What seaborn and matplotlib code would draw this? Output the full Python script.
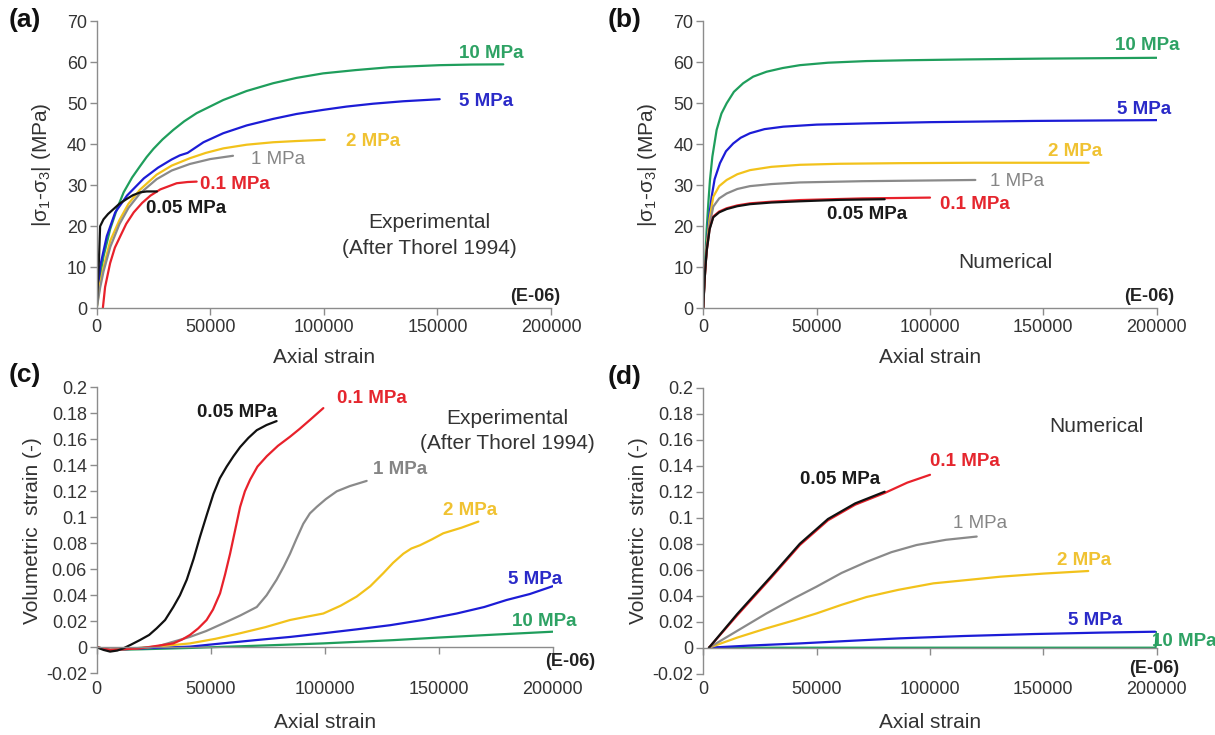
import numpy as np
import pandas as pd
import matplotlib
matplotlib.use("Agg")
import matplotlib.pyplot as plt
import seaborn as sns
from matplotlib.ticker import FuncFormatter

sns.set_theme(style="white")
plt.rcParams['font.family'] = ['Liberation Sans', 'DejaVu Sans']
plt.rcParams['mathtext.fontset'] = 'custom'
plt.rcParams['mathtext.rm'] = 'Liberation Sans'
plt.rcParams['mathtext.it'] = 'Liberation Sans:italic'
plt.rcParams['axes.unicode_minus'] = False

# ---------------- data ----------------
series = ['10 MPa', '5 MPa', '2 MPa', '1 MPa', '0.1 MPa', '0.05 MPa']

# (a) experimental deviatoric stress
a_x = {
    '10 MPa': [0, 1000, 2970, 5930, 8900, 11870, 15580, 19000, 22000, 25000, 29000, 33700, 38500, 44000, 55700, 66000, 77700, 88000, 99700, 114000, 129000, 151000, 165000, 179000],
    '5 MPa': [0, 1500, 4450, 8160, 13350, 20770, 27000, 33000, 36600, 40000, 47000, 55700, 66000, 77700, 88000, 99700, 110000, 121700, 135000, 151000],
    '2 MPa': [0, 1500, 3000, 6000, 10000, 14000, 19000, 26400, 33000, 41000, 48000, 55700, 66000, 77700, 88000, 100400],
    '1 MPa': [0, 1500, 3000, 6000, 10000, 14000, 19000, 26400, 33000, 41000, 50000, 60000],
    '0.1 MPa': [2700, 3700, 5900, 8000, 10400, 13000, 16300, 20000, 23700, 28000, 35200, 40000, 44000],
    '0.05 MPa': [0, 1000, 1500, 3000, 5000, 7400, 10000, 13300, 16000, 19300, 22000, 26500],
}
a_y = {
    '10 MPa': [0, 6, 12.6, 19.3, 24.2, 28.3, 31.9, 34.6, 36.9, 38.9, 41.2, 43.5, 45.6, 47.6, 50.8, 53.0, 54.9, 56.2, 57.3, 58.1, 58.8, 59.3, 59.45, 59.5],
    '5 MPa': [0, 10.2, 17.6, 23.4, 27.5, 31.7, 34.3, 36.3, 37.3, 37.9, 40.5, 42.7, 44.6, 46.2, 47.4, 48.4, 49.2, 49.9, 50.5, 51.0],
    '2 MPa': [0, 6, 10, 16.5, 21.5, 25.5, 28.9, 32.6, 34.8, 36.6, 37.9, 39.0, 39.9, 40.5, 40.8, 41.1],
    '1 MPa': [0, 5, 9, 15, 20.5, 24.5, 28.0, 31.5, 33.6, 35.2, 36.4, 37.2],
    '0.1 MPa': [0, 5.2, 11, 14.8, 17.6, 20.6, 23.4, 25.7, 27.5, 29.0, 30.5, 30.8, 30.9],
    '0.05 MPa': [0, 12, 20, 21.7, 23.0, 24.2, 25.5, 26.7, 27.6, 28.3, 28.5, 28.5],
}

# (b) numerical deviatoric stress
b_x = {
    '10 MPa': [0, 300, 800, 1470, 2200, 2940, 4000, 5880, 8000, 10300, 13500, 17600, 22000, 27900, 35000, 42600, 55000, 72000, 90000, 116000, 150000, 200000],
    '5 MPa': [0, 300, 800, 1470, 2500, 3680, 5000, 7350, 10000, 13200, 16500, 20600, 27000, 35300, 50000, 72000, 100000, 145600, 200000],
    '2 MPa': [0, 300, 800, 1500, 2800, 4400, 7000, 10300, 15000, 20600, 30000, 42600, 60000, 86800, 120000, 170000],
    '1 MPa': [0, 300, 800, 1500, 2800, 4400, 7000, 10300, 15000, 20600, 30000, 42600, 70000, 120000],
    '0.1 MPa': [0, 300, 800, 1500, 2800, 4400, 7000, 10300, 15000, 20600, 30000, 42600, 70000, 100000],
    '0.05 MPa': [0, 300, 800, 1500, 2800, 4400, 7000, 10300, 15000, 20600, 30000, 42600, 60000, 80000],
}
b_y = {
    '10 MPa': [0, 5, 11, 19.1, 25.5, 31.3, 37.0, 43.5, 47.5, 50.0, 52.8, 54.9, 56.5, 57.7, 58.6, 59.3, 59.9, 60.3, 60.5, 60.7, 60.9, 61.1],
    '5 MPa': [0, 4, 9, 15, 22, 27.2, 31.5, 35.4, 38.3, 40.2, 41.6, 42.7, 43.7, 44.3, 44.8, 45.1, 45.4, 45.7, 45.9],
    '2 MPa': [0, 4, 9, 15, 22, 27.2, 29.8, 31.3, 32.7, 33.7, 34.5, 35.0, 35.25, 35.4, 35.5, 35.5],
    '1 MPa': [0, 4, 9, 14.5, 20.5, 24.8, 26.8, 28.0, 29.1, 29.8, 30.3, 30.7, 31.0, 31.3],
    '0.1 MPa': [0, 4, 9, 14, 19.5, 22.4, 23.6, 24.4, 25.1, 25.6, 26.0, 26.4, 26.8, 27.0],
    '0.05 MPa': [0, 4, 9, 14, 19.3, 22.2, 23.4, 24.2, 24.9, 25.4, 25.8, 26.1, 26.45, 26.6],
}

# (c) experimental volumetric strain
c_x = {
    '10 MPa': [0, 5850, 20000, 40900, 70000, 99400, 130000, 150000, 175000, 200000],
    '5 MPa': [0, 5850, 20000, 40900, 55000, 70200, 85000, 99400, 114000, 128700, 143000, 157900, 170000, 179800, 190000, 200000],
    '2 MPa': [0, 5850, 15000, 26300, 40900, 52000, 62900, 74000, 84800, 92000, 99400, 107000, 114000, 120000, 125700, 130000, 134500, 138000, 141800, 147000, 152000, 160000, 167400],
    '1 MPa': [0, 5850, 15000, 26300, 33000, 40900, 48000, 55600, 63000, 70200, 74500, 78900, 82000, 84800, 87500, 90600, 93500, 96500, 100500, 105300, 111000, 118400],
    '0.1 MPa': [0, 5850, 12000, 19000, 26000, 33600, 37500, 40900, 44500, 48200, 51000, 54100, 56300, 58500, 60700, 62900, 65000, 67300, 70500, 74600, 79500, 84800, 89000, 93600, 99400],
    '0.05 MPa': [0, 3000, 5850, 9000, 11700, 15000, 19000, 23000, 26300, 30000, 33600, 36500, 39500, 42500, 45300, 48300, 51200, 54000, 57000, 60000, 62900, 66500, 70200, 74500, 78900],
}
c_y = {
    '10 MPa': [0, -0.002, -0.0015, -0.0005, 0.0012, 0.003, 0.0055, 0.0075, 0.0098, 0.012],
    '5 MPa': [0, -0.002, -0.0008, 0.0005, 0.003, 0.0056, 0.008, 0.0108, 0.0138, 0.017, 0.021, 0.026, 0.031, 0.0364, 0.041, 0.047],
    '2 MPa': [0, -0.002, -0.001, 0.0005, 0.003, 0.0065, 0.0108, 0.0155, 0.021, 0.0235, 0.026, 0.032, 0.039, 0.047, 0.057, 0.065, 0.072, 0.076, 0.0785, 0.083, 0.0877, 0.092, 0.0967],
    '1 MPa': [0, -0.002, -0.001, 0.0005, 0.004, 0.008, 0.0125, 0.0185, 0.0245, 0.031, 0.040, 0.052, 0.062, 0.072, 0.083, 0.095, 0.103, 0.108, 0.114, 0.120, 0.124, 0.128],
    '0.1 MPa': [0, -0.002, -0.0015, -0.0008, 0.001, 0.003, 0.006, 0.0095, 0.0145, 0.021, 0.029, 0.0415, 0.056, 0.072, 0.090, 0.108, 0.120, 0.129, 0.139, 0.147, 0.155, 0.162, 0.168, 0.175, 0.184],
    '0.05 MPa': [0, -0.002, -0.0033, -0.0025, -0.0008, 0.002, 0.0056, 0.0095, 0.0146, 0.021, 0.031, 0.040, 0.052, 0.068, 0.085, 0.102, 0.118, 0.130, 0.139, 0.147, 0.154, 0.161, 0.167, 0.171, 0.174],
}

# (d) numerical volumetric strain
d_x = {
    '10 MPa': [2500, 100000, 199500, 200000],
    '5 MPa': [2500, 20000, 42600, 65000, 86800, 115000, 145600, 175000, 199300],
    '2 MPa': [2500, 15000, 27900, 40000, 50000, 61000, 72000, 86000, 101500, 116000, 130900, 150000, 169800],
    '1 MPa': [2500, 15000, 27900, 40000, 50000, 61000, 72000, 83000, 94100, 107000, 120600],
    '0.1 MPa': [2500, 15000, 30000, 42600, 55000, 67000, 80000, 90000, 100000],
    '0.05 MPa': [2500, 15000, 30000, 42600, 55000, 67000, 80000],
}
d_y = {
    '10 MPa': [0, 0, 0, 0.012],
    '5 MPa': [0, 0.0016, 0.0033, 0.0053, 0.0072, 0.009, 0.0105, 0.0116, 0.0123],
    '2 MPa': [0, 0.0078, 0.0149, 0.021, 0.0264, 0.033, 0.039, 0.0445, 0.0495, 0.052, 0.0546, 0.057, 0.059],
    '1 MPa': [0, 0.013, 0.0264, 0.038, 0.047, 0.0575, 0.066, 0.0735, 0.079, 0.083, 0.0855],
    '0.1 MPa': [0, 0.025, 0.054, 0.079, 0.098, 0.110, 0.119, 0.127, 0.133],
    '0.05 MPa': [0, 0.026, 0.055, 0.080, 0.099, 0.111, 0.120],
}

# label anchor positions (data coords) per panel
lab_a = {'10 MPa': (159500, 62.2), '5 MPa': (159500, 50.4), '2 MPa': (109700, 40.7),
         '1 MPa': (68000, 36.3), '0.1 MPa': (45400, 30.1), '0.05 MPa': (21900, 24.4)}
lab_b = {'10 MPa': (181600, 64.2), '5 MPa': (182400, 48.4), '2 MPa': (152200, 38.2),
         '1 MPa': (126500, 30.9), '0.1 MPa': (104400, 25.4), '0.05 MPa': (54400, 22.9)}
lab_c = {'10 MPa': (182000, 0.0197), '5 MPa': (180600, 0.0518), '2 MPa': (152000, 0.1056),
         '1 MPa': (121300, 0.137), '0.1 MPa': (105300, 0.1915), '0.05 MPa': (43900, 0.1808)}
lab_d = {'10 MPa': (197800, 0.0046), '5 MPa': (161000, 0.0208), '2 MPa': (155900, 0.0674),
         '1 MPa': (110300, 0.0956), '0.1 MPa': (100000, 0.143), '0.05 MPa': (42600, 0.1295)}

line_colors = {'10 MPa': '#1f9e5c', '5 MPa': '#1c1cd6', '2 MPa': '#f2c21b',
               '1 MPa': '#8a8a8a', '0.1 MPa': '#e8212b', '0.05 MPa': '#111111'}
text_colors = {'10 MPa': '#2ea264', '5 MPa': '#2a2ac8', '2 MPa': '#f0c232',
               '1 MPa': '#858585', '0.1 MPa': '#e5262e', '0.05 MPa': '#1a1a1a'}

x_ticks = [0, 50000, 100000, 150000, 200000]

TXT = '#333333'
SP = '#8c8c8c'


def to_df(xd, yd):
    rows = []
    for s in series:
        for xv, yv in zip(xd[s], yd[s]):
            rows.append((s, xv, yv))
    return pd.DataFrame(rows, columns=['p', 'x', 'y'])


fig = plt.figure(figsize=(12.15, 7.35), dpi=100)
W, H = 1215.0, 735.0


def mk(l, r, t, b):
    return fig.add_axes([l / W, 1 - b / H, (r - l) / W, (b - t) / H])


axa = mk(96.7, 551.0, 21.3, 308.3)
axb = mk(703.3, 1156.7, 21.3, 308.3)
axc = mk(96.7, 552.7, 387.3, 673.3)
axd = mk(703.3, 1156.7, 387.7, 673.7)


def style(ax, vol):
    for s in ['top', 'right']:
        ax.spines[s].set_visible(False)
    for s in ['left', 'bottom']:
        ax.spines[s].set_color(SP)
        ax.spines[s].set_linewidth(1.0)
    ax.set_xlim(0, 200000)
    ax.set_xticks(x_ticks)
    ax.xaxis.set_major_formatter(FuncFormatter(lambda v, p: f"{int(round(v))}"))
    ax.tick_params(axis='both', which='major', direction='out', length=5, width=1.0,
                   color=SP, labelsize=13, labelcolor=TXT, left=True, bottom=True)
    ax.tick_params(axis='y', pad=2)
    if vol:
        ax.set_ylim(-0.02, 0.2)
        yt = [round(-0.02 + 0.02 * i, 2) for i in range(12)]
        ax.set_yticks(yt)
        ax.yaxis.set_major_formatter(FuncFormatter(lambda v, p: f"{round(v, 2):g}"))
        ax.spines['bottom'].set_position(('data', 0))
        ax.tick_params(axis='x', pad=19)
        ax.set_ylabel('Volumetric  strain (-)', fontsize=15, color=TXT, labelpad=3)
        ax.set_xlabel('Axial strain', fontsize=15, color=TXT, labelpad=11)
    else:
        ax.set_ylim(0, 70)
        ax.set_yticks(range(0, 71, 10))
        ax.tick_params(axis='x', pad=3)
        ax.set_ylabel(r'|σ$_{1}$-σ$_{3}$| (MPa)', fontsize=15, color=TXT, labelpad=10)
        ax.set_xlabel('Axial strain', fontsize=15, color=TXT, labelpad=8)
    ax.grid(False)


panels = [(axa, a_x, a_y, lab_a, False), (axb, b_x, b_y, lab_b, False),
          (axc, c_x, c_y, lab_c, True), (axd, d_x, d_y, lab_d, True)]

for ax, xd, yd, labs, vol in panels:
    df = to_df(xd, yd)
    sns.lineplot(data=df, x='x', y='y', hue='p', hue_order=series, palette=line_colors,
                 sort=False, estimator=None, legend=False, ax=ax, linewidth=1.6)
    style(ax, vol)
    for s in series:
        xx, yy = labs[s]
        bold = 'normal' if (s == '1 MPa' and ax is not axc) else 'bold'
        ax.text(xx, yy, s, color=text_colors[s], fontsize=13.5, fontweight=bold,
                ha='left', va='center', clip_on=False)

# annotations
axa.text(146300, 20.9, 'Experimental', fontsize=15, color=TXT, ha='center', va='center')
axa.text(146300, 14.6, '(After Thorel 1994)', fontsize=15, color=TXT, ha='center', va='center')
axb.text(133400, 11.2, 'Numerical', fontsize=15, color=TXT, ha='center', va='center')
axc.text(180000, 0.176, 'Experimental', fontsize=15, color=TXT, ha='center', va='center')
axc.text(180000, 0.157, '(After Thorel 1994)', fontsize=15, color=TXT, ha='center', va='center')
axd.text(173500, 0.170, 'Numerical', fontsize=15, color=TXT, ha='center', va='center')

axa.text(193000, 2.85, '(E-06)', fontsize=13, fontweight='bold', color='#222222', ha='center', va='center', clip_on=False)
axb.text(196500, 2.85, '(E-06)', fontsize=13, fontweight='bold', color='#222222', ha='center', va='center', clip_on=False)
axc.text(207600, -0.011, '(E-06)', fontsize=13, fontweight='bold', color='#222222', ha='center', va='center', clip_on=False)
axd.text(199000, -0.016, '(E-06)', fontsize=13, fontweight='bold', color='#222222', ha='center', va='center', clip_on=False)

for lab, (px, py) in {'(a)': (25, 20), '(b)': (625, 20), '(c)': (25, 375), '(d)': (625, 377)}.items():
    fig.text(px / W, 1 - py / H, lab, fontsize=19, fontweight='bold', color='#111111',
             ha='center', va='center')

fig.savefig('out.png', dpi=100)
